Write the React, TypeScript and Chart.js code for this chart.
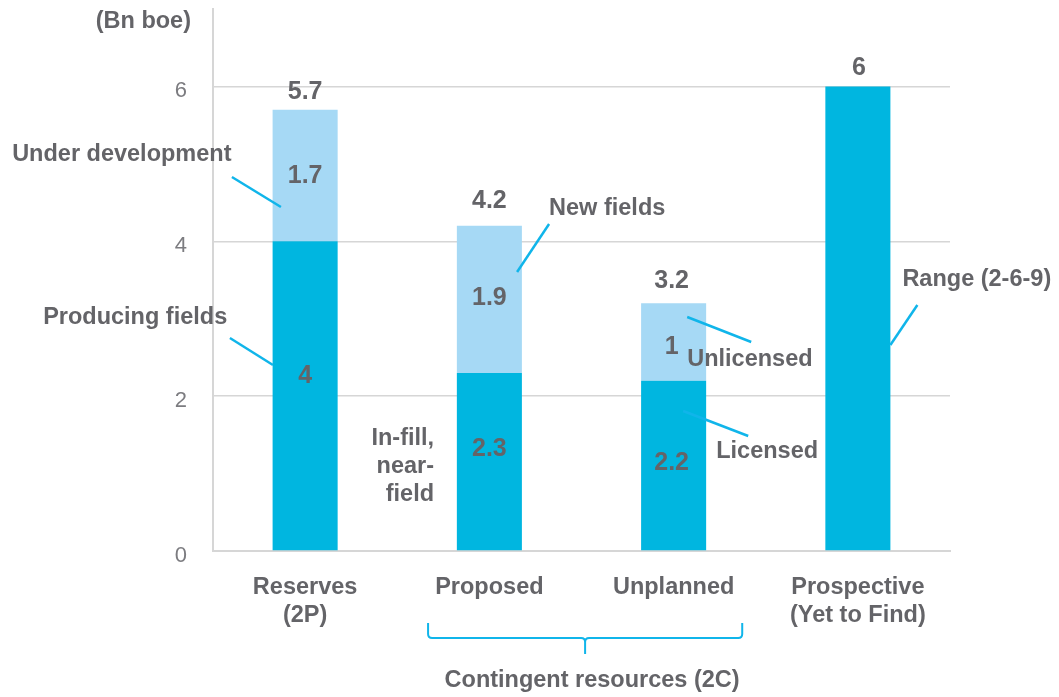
import React, { useEffect, useRef } from "react";
import { Chart, registerables } from "chart.js";

Chart.register(...registerables);

// ---- data ----
const categories: string[][] = [["Reserves", "(2P)"], ["Proposed"], ["Unplanned"], ["Prospective", "(Yet to Find)"]];
const baseValues = [4, 2.3, 2.2, 6];
const topValues = [1.7, 1.9, 1, 0];
const yTicks = [0, 2, 4, 6];
const yMax = 7;
const unitLabel = "(Bn boe)";
const groupLabel = "Contingent resources (2C)";

// ---- styles ----
const DARK = "#00b6e0";
const LIGHT = "#a6d9f5";
const LEADER = "#10b5ea";
const TEXT = "#646468";
const GRID = "#d6d6d6";
const FAMILY = '"Liberation Sans", Arial, Helvetica, sans-serif';
const BOLD = `bold 23.5px ${FAMILY}`;
const VALUE_FONT = `bold 25px ${FAMILY}`;

// callouts: text anchored to a category centre (px offset) and a value on the y scale
type Callout = { lines: string[]; i: number; dx: number; v: number; align: CanvasTextAlign; leader?: [number, number, number, number] };
const callouts: Callout[] = [
  { lines: ["Under development"], i: 0, dx: -293, v: 5.127, align: "left", leader: [-73.2, 4.83, -24.2, 4.443] },
  { lines: ["Producing fields"], i: 0, dx: -262, v: 3.016, align: "left", leader: [-75.2, 2.751, -32.2, 2.402] },
  { lines: ["New fields"], i: 1, dx: 59.7, v: 4.417, align: "left", leader: [59.7, 4.223, 27.7, 3.603] },
  { lines: ["Unlicensed"], i: 2, dx: 13.6, v: 2.467, align: "left", leader: [13.6, 3.022, 77.6, 2.699] },
  { lines: ["Licensed"], i: 2, dx: 42.6, v: 1.279, align: "left", leader: [9.6, 1.808, 74.6, 1.485] },
  { lines: ["Range (2-6-9)"], i: 3, dx: 44.5, v: 3.5, align: "left", leader: [59.5, 3.177, 32.5, 2.66] },
  { lines: ["In-fill,", "near-", "field"], i: 1, dx: -55.3, v: 1.453, align: "right" },
];
// value label nudges in px: [dx, dy]
const totalNudge = [[0, -18], [0, -25], [-2, -22], [1, -18]];
const baseNudge = [[0, -20], [0, -12.5], [-2, -3]];
const topNudge = [[0, 1], [0, -1.4], [-2, 5]];

const fmt = (v: number) => String(Math.round(v * 10) / 10);

const annotationPlugin = {
  id: "annotations",
  afterDatasetsDraw(chart: any) {
    const { ctx, chartArea } = chart;
    const x = chart.scales.x;
    const y = chart.scales.y;
    const cx = (i: number) => x.getPixelForValue(i);
    ctx.save();
    ctx.fillStyle = TEXT;
    ctx.textBaseline = "middle";

    // value labels
    ctx.font = VALUE_FONT;
    ctx.textAlign = "center";
    baseValues.forEach((b, i) => {
      const t = topValues[i];
      const total = b + t;
      const [tdx, tdy] = totalNudge[i];
      ctx.fillText(fmt(total), cx(i) + tdx, y.getPixelForValue(total) + tdy);
      if (t > 0) {
        const [bdx, bdy] = baseNudge[i];
        ctx.fillText(fmt(b), cx(i) + bdx, y.getPixelForValue(b / 2) + bdy);
        const [udx, udy] = topNudge[i];
        ctx.fillText(fmt(t), cx(i) + udx, y.getPixelForValue(b + t / 2) + udy);
      }
    });

    // callouts
    ctx.font = BOLD;
    callouts.forEach((c) => {
      ctx.textAlign = c.align;
      c.lines.forEach((ln, k) => {
        ctx.fillText(ln, cx(c.i) + c.dx, y.getPixelForValue(c.v) + k * 28);
      });
      if (c.leader) {
        const [dx1, v1, dx2, v2] = c.leader;
        ctx.beginPath();
        ctx.strokeStyle = LEADER;
        ctx.lineWidth = 2.5;
        ctx.moveTo(cx(c.i) + dx1, y.getPixelForValue(v1));
        ctx.lineTo(cx(c.i) + dx2, y.getPixelForValue(v2));
        ctx.stroke();
      }
    });

    // unit label
    ctx.textAlign = "right";
    ctx.fillText(unitLabel, chartArea.left - 22, chartArea.top + 13);

    // brace under Proposed / Unplanned
    const bl = cx(1) - 61.3;
    const br = cx(2) + 68.6;
    const bm = (cx(1) + cx(2)) / 2 + 3.6;
    const b0 = chartArea.bottom;
    const yTop = b0 + 72;
    const yH = b0 + 87;
    const yTip = b0 + 103;
    const r = 4;
    ctx.strokeStyle = LEADER;
    ctx.lineWidth = 2;
    ctx.beginPath();
    ctx.moveTo(bl, yTop);
    ctx.lineTo(bl, yH - r);
    ctx.quadraticCurveTo(bl, yH, bl + r, yH);
    ctx.lineTo(bm - r, yH);
    ctx.quadraticCurveTo(bm, yH, bm, yH + r);
    ctx.lineTo(bm, yTip);
    ctx.moveTo(bm, yH + r);
    ctx.quadraticCurveTo(bm, yH, bm + r, yH);
    ctx.lineTo(br - r, yH);
    ctx.quadraticCurveTo(br, yH, br, yH - r);
    ctx.lineTo(br, yTop);
    ctx.stroke();

    ctx.fillStyle = TEXT;
    ctx.textAlign = "center";
    ctx.fillText(groupLabel, bm + 7, b0 + 129.5);
    ctx.restore();
  },
};

export default function App() {
  const ref = useRef<HTMLCanvasElement | null>(null);
  useEffect(() => {
    if (!ref.current) return;
    const chart = new Chart(ref.current, {
      type: "bar",
      data: {
        labels: categories,
        datasets: [
          { data: baseValues, backgroundColor: DARK, borderWidth: 0, barPercentage: 0.353, categoryPercentage: 1 },
          { data: topValues, backgroundColor: LIGHT, borderWidth: 0, barPercentage: 0.353, categoryPercentage: 1 },
        ],
      },
      options: {
        responsive: false,
        animation: false,
        events: [],
        layout: { padding: { top: 9, right: 109, left: 0, bottom: 0 } },
        plugins: { legend: { display: false }, tooltip: { enabled: false } },
        scales: {
          x: {
            stacked: true,
            grid: { display: false, drawTicks: false },
            border: { display: true, color: GRID, width: 2 },
            ticks: { font: { family: FAMILY, size: 23.5, weight: "bold", lineHeight: 1.19 }, color: TEXT, padding: 23 },
            afterFit: (s: any) => {
              s.height = 146;
              s.paddingLeft = 0;
              s.paddingRight = 0;
            },
          },
          y: {
            stacked: true,
            min: 0,
            max: yMax,
            afterBuildTicks: (s: any) => {
              s.ticks = yTicks.map((v) => ({ value: v }));
            },
            grid: { color: GRID, lineWidth: 1.5, drawTicks: false },
            border: { display: true, color: GRID, width: 2 },
            ticks: { font: { family: FAMILY, size: 22 }, color: "#7c7c80", padding: 26, labelOffset: 5 },
            afterFit: (s: any) => {
              s.width = 213;
              s.paddingTop = 0;
              s.paddingBottom = 0;
            },
          },
        },
      },
      plugins: [annotationPlugin],
    });
    return () => chart.destroy();
  }, []);
  return (
    <div style={{ position: "absolute", left: 0, top: 0, width: 1059, height: 697, background: "#fff" }}>
      <canvas ref={ref} width={1059} height={697} style={{ display: "block" }} />
    </div>
  );
}
